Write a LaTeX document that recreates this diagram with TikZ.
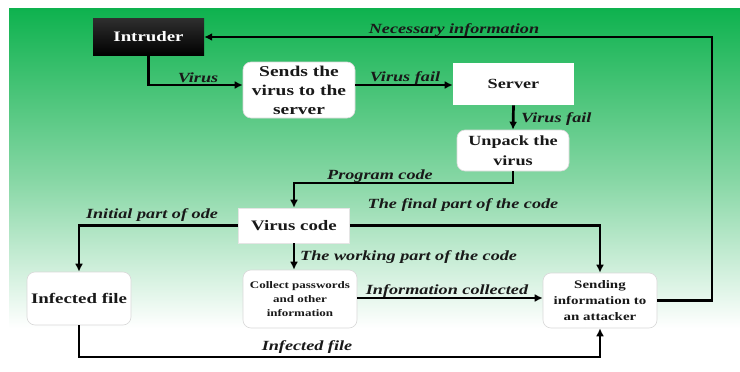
\documentclass[tikz,border=0pt]{standalone}
\usepackage{fontspec}
\setmainfont{Liberation Serif}[FakeStretch=1.3]
\usetikzlibrary{arrows.meta}
\definecolor{gA}{RGB}{14,178,78}
\definecolor{gB}{RGB}{135,215,165}
\definecolor{txt}{RGB}{25,25,25}
\begin{document}
\begin{tikzpicture}[x=1pt,y=-1pt,
  conn/.style={line width=2.7pt,draw=black,-{Latex[length=8pt,width=8pt]}},
  lbl/.style={inner sep=0pt,text=txt,font=\fontsize{14}{16}\selectfont\bfseries\itshape},
  rbox/.style={draw=black!15,line width=0.6pt,fill=white,rounded corners=8pt,align=center,text=txt,inner sep=2pt},
  sbox/.style={draw=black!10,line width=0.6pt,fill=white,align=center,text=txt,inner sep=2pt},
  ibox/.style={top color=black!82,bottom color=black,text=white,inner sep=2pt}
]
\useasboundingbox (0,0) rectangle (740,372);
\fill[white] (0,0) rectangle (740,372);
\shade[top color=gA,bottom color=gB] (9,8) rectangle (740,180.5);
\shade[top color=gB,bottom color=white] (9,180) rectangle (740,328);

% nodes
\node[ibox,minimum width=111pt,minimum height=37pt,font=\fontsize{14.5}{16}\selectfont\bfseries] (intruder) at (148.5,37) {Intruder};
\node[rbox,minimum width=112pt,minimum height=56pt,font=\fontsize{15}{19}\selectfont\bfseries] (sends) at (299,90) {Sends the\\virus to the\\server};
\node[sbox,draw=none,minimum width=121pt,minimum height=42pt,font=\fontsize{14}{16}\selectfont\bfseries] (server) at (513.5,84) {Server};
\node[rbox,minimum width=112pt,minimum height=41pt,font=\fontsize{14}{20}\selectfont\bfseries] (unpack) at (513,150.5) {Unpack the\\virus};
\node[sbox,minimum width=111pt,minimum height=35pt,font=\fontsize{14.5}{17}\selectfont\bfseries] (viruscode) at (294,225.5) {Virus code};
\node[rbox,minimum width=104pt,minimum height=53pt,font=\fontsize{14.5}{17}\selectfont\bfseries] (infected) at (79,298.5) {Infected file};
\node[rbox,minimum width=114pt,minimum height=58pt,font=\fontsize{10}{14}\selectfont\bfseries] (collect) at (300,299) {Collect passwords\\and other\\information};
\node[rbox,minimum width=114pt,minimum height=55pt,font=\fontsize{11.5}{16}\selectfont\bfseries] (sending) at (600,300.5) {Sending\\information to\\an attacker};

% helper coordinates
\coordinate (ni) at (712,37);
\coordinate (pc) at (400,183);
\coordinate (ifc) at (300,357);

% connectors
\draw[conn] (sending.east) -| (ni) -- (intruder.east);
\draw[conn] (intruder.south) |- ([yshift=5pt]sends.west);
\draw[conn] ([yshift=5pt]sends.east) -- ([yshift=5pt]sends.east -| server.west);
\draw[conn] (server.south) -- (unpack.north);
\draw[conn] (unpack.south) |- (pc) -| (viruscode.north);
\draw[conn] (viruscode.west) -| (infected.north);
\draw[conn] (viruscode.east) -| (sending.north);
\draw[conn] (viruscode.south) -- (viruscode.south |- collect.north);
\draw[conn] ([yshift=1pt]collect.east) -- ([yshift=1pt]collect.east -| sending.west);
\draw[conn] (infected.south) |- (ifc) -| (sending.south);

% labels
\node[lbl,anchor=base] (lnec) at (454,33) {Necessary information};
\node[lbl,anchor=base] (lvirus) at (198,82) {Virus};
\node[lbl,anchor=base] (lvf1) at (405,81) {Virus fail};
\node[lbl,anchor=base west] (lvf2) at (521,122) {Virus fail};
\node[lbl,anchor=base] (lpc) at (380,179) {Program code};
\node[lbl,anchor=base] (linit) at (152,218) {Initial part of ode};
\node[lbl,anchor=base] (lfinal) at (463,208) {The final part of the code};
\node[lbl,anchor=base west] (lwork) at (300,260) {The working part of the code};
\node[lbl,anchor=base] (linfo) at (447,294) {Information collected};
\node[lbl,anchor=base] (linf) at (307,350) {Infected file};
\end{tikzpicture}
\end{document}
